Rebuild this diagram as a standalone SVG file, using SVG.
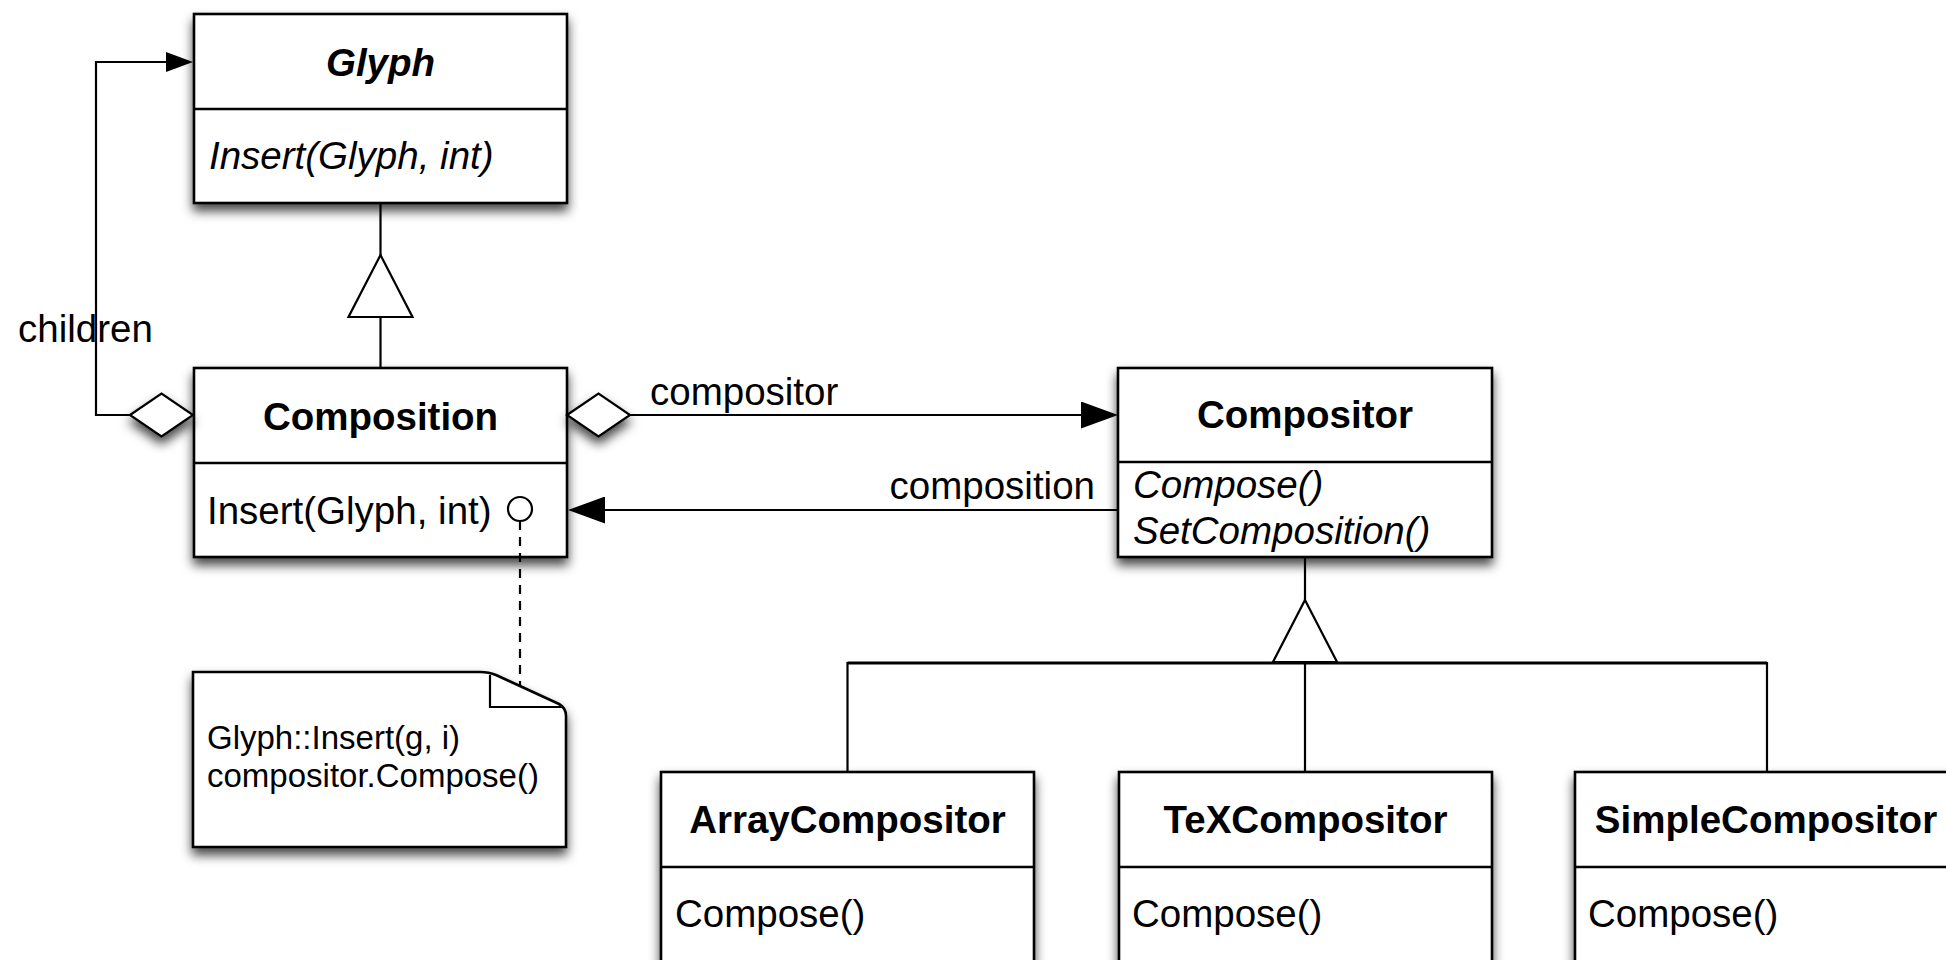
<svg xmlns="http://www.w3.org/2000/svg" xmlns:xlink="http://www.w3.org/1999/xlink" width="1946" height="960" viewBox="0 0 1946 960">
<style>
  .box { fill:#fff; stroke:#000; stroke-width:2.6; }
  .shadow { filter:url(#shadow); }
  .div { stroke:#000; stroke-width:2.6; }
  .line { fill:none; stroke:#000; stroke-width:2.2; }
  .dash { fill:none; stroke:#000; stroke-width:2.2; stroke-dasharray:9 7; }
  .hollow { fill:#fff; stroke:#000; stroke-width:2.2; stroke-linejoin:miter; }
  text { font-family:"Liberation Sans", Arial, Helvetica, sans-serif; font-size:38.5px; fill:#000; }
  .title { font-weight:bold; text-anchor:middle; }
  .ital { font-style:italic; }
  .notetext { font-size:33px; }
</style>
<defs>
  <filter id="shadow" x="-20%" y="-20%" width="140%" height="160%">
    <feDropShadow dx="0" dy="7" stdDeviation="5.5" flood-color="#000" flood-opacity="0.72"/>
  </filter>
  <marker id="arrow" markerUnits="userSpaceOnUse" markerWidth="37" markerHeight="27" viewBox="0 0 37 27" refX="27" refY="13.5" orient="auto">
    <path d="M0,0 L37,13.5 L0,27 Z" fill="#000"/>
  </marker>
  <marker id="arrowSmall" markerUnits="userSpaceOnUse" markerWidth="27" markerHeight="20" viewBox="0 0 27 20" refX="17" refY="10" orient="auto">
    <path d="M0,0 L27,10 L0,20 Z" fill="#000"/>
  </marker>
  <path id="diamond" d="M0,0 L31.5,-21.5 L63,0 L31.5,21.5 Z"/>
  <path id="tri" d="M0,0 L32,62 L-32,62 Z"/>
</defs>

<g id="Glyph">
  <rect class="box shadow" x="194" y="14" width="373" height="189"/>
  <line class="div" x1="194" y1="109" x2="567" y2="109"/>
  <text class="title ital" x="380.5" y="76">Glyph</text>
  <text class="ital" x="209" y="169">Insert(Glyph, int)</text>
</g>

<g id="Composition">
  <rect class="box shadow" x="194" y="368" width="373" height="189"/>
  <line class="div" x1="194" y1="463" x2="567" y2="463"/>
  <text class="title" x="380.5" y="430">Composition</text>
  <text x="207" y="524">Insert(Glyph, int)</text>
</g>

<g id="Compositor">
  <rect class="box shadow" x="1118" y="368" width="374" height="189"/>
  <line class="div" x1="1118" y1="462" x2="1492" y2="462"/>
  <text class="title" x="1305" y="428">Compositor</text>
  <text class="ital" x="1133" y="498">Compose()</text>
  <text class="ital" x="1133" y="544">SetComposition()</text>
</g>

<g id="ArrayCompositor">
  <rect class="box shadow" x="661" y="772" width="373" height="190"/>
  <line class="div" x1="661" y1="867" x2="1034" y2="867"/>
  <text class="title" x="847.5" y="833">ArrayCompositor</text>
  <text x="675" y="927">Compose()</text>
</g>

<g id="TeXCompositor">
  <rect class="box shadow" x="1119" y="772" width="373" height="190"/>
  <line class="div" x1="1119" y1="867" x2="1492" y2="867"/>
  <text class="title" x="1305.5" y="833">TeXCompositor</text>
  <text x="1132" y="927">Compose()</text>
</g>

<g id="SimpleCompositor">
  <rect class="box shadow" x="1575" y="772" width="384" height="190"/>
  <line class="div" x1="1575" y1="867" x2="1959" y2="867"/>
  <text class="title" x="1766" y="833">SimpleCompositor</text>
  <text x="1588" y="927">Compose()</text>
</g>

<g id="note">
  <path class="box shadow" d="M193,672 H480 Q489,672 496,675 L559,704 Q566,708 566,716 V847 H193 Z"/>
  <path class="line" d="M490,675 V707 H562"/>
  <text class="notetext" x="207" y="749">Glyph::Insert(g, i)</text>
  <text class="notetext" x="207" y="787">compositor.Compose()</text>
</g>

<g id="connectors">
  <!-- children self-aggregation -->
  <path class="line" d="M130,415 H96 V62 H183" marker-end="url(#arrowSmall)"/>
  <use href="#diamond" xlink:href="#diamond" x="130" y="415" class="hollow shadow"/>
  <text x="18" y="342">children</text>

  <!-- Glyph <|- Composition -->
  <path class="line" d="M380.5,203 V255 M380.5,317 V368"/>
  <use href="#tri" xlink:href="#tri" x="380.5" y="255" class="hollow"/>

  <!-- compositor association -->
  <path class="line" d="M630,415 H1108" marker-end="url(#arrow)"/>
  <use href="#diamond" xlink:href="#diamond" x="567" y="415" class="hollow shadow"/>
  <text x="650" y="405">compositor</text>

  <!-- composition association -->
  <path class="line" d="M1118,510 H578" marker-end="url(#arrow)"/>
  <text x="1095" y="499" style="text-anchor:end">composition</text>

  <!-- Compositor generalization -->
  <path class="line" d="M1305,557 V600 M1305,662 V772 M847.5,772 V663 H1767 V772"/>
  <path class="line" d="M847.5,663 H1767" style="stroke-width:3"/>
  <use href="#tri" xlink:href="#tri" x="1305" y="600" class="hollow"/>

  <!-- note anchor -->
  <circle cx="520" cy="509" r="12" class="hollow"/>
  <path class="dash" d="M520,521 V686"/>
</g>
</svg>
